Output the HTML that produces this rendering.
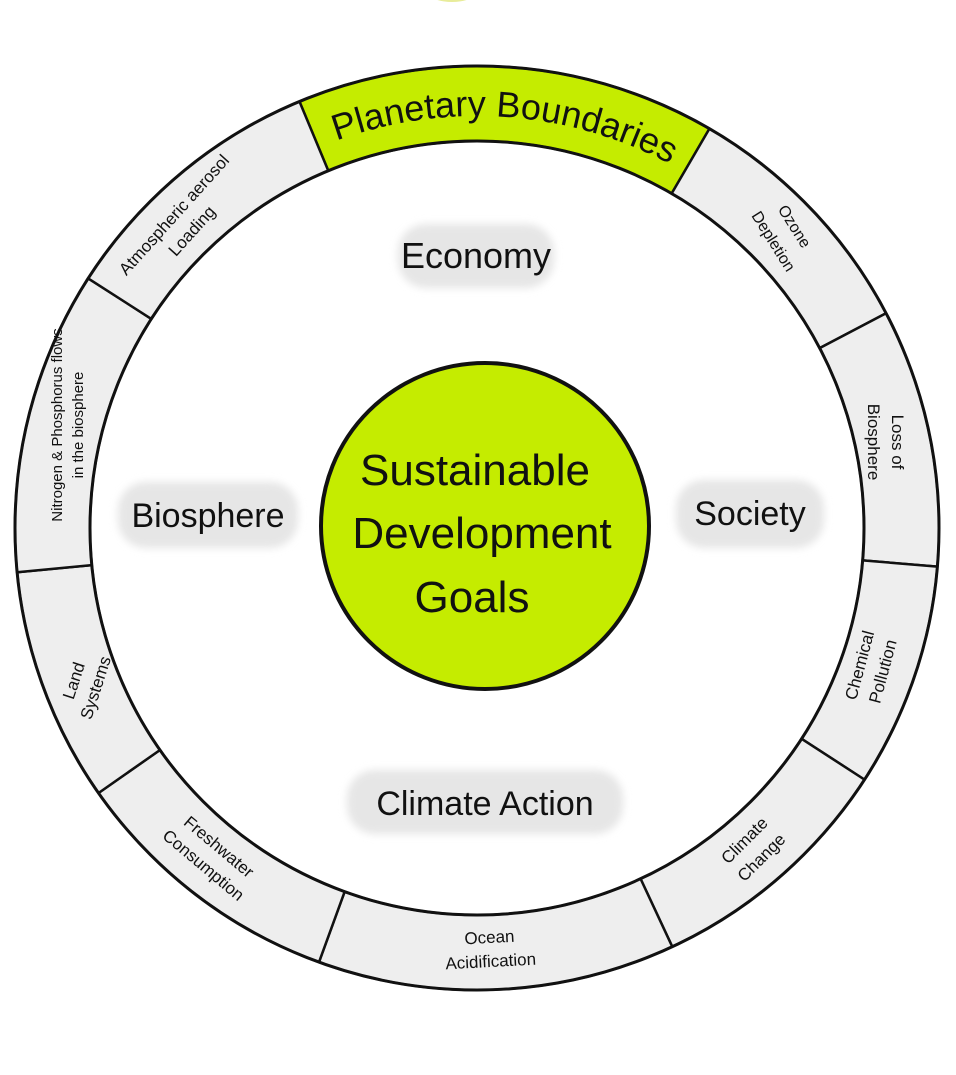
<!DOCTYPE html>
<html><head><meta charset="utf-8"><style>
html,body{margin:0;padding:0;background:#fff;}
svg{display:block;}
text{font-family:"Liberation Sans",sans-serif;fill:#111;}
</style></head><body>
<svg id="s" width="956" height="1075" viewBox="0 0 956 1075" xmlns="http://www.w3.org/2000/svg">
<defs>
<filter id="bl" x="-20%" y="-30%" width="140%" height="160%"><feGaussianBlur stdDeviation="4"/></filter>
<path id="pb" d=""/>
</defs>
<ellipse cx="452" cy="-6" rx="22" ry="8" fill="#e8ec9a"/>
<g id="ring"></g>
<g filter="url(#bl)" fill="#e6e6e6">
<rect x="398" y="224" width="156" height="64" rx="28"/>
<rect x="118" y="482" width="180" height="66" rx="28"/>
<rect x="676" y="480" width="148" height="68" rx="28"/>
<rect x="347" y="770" width="276" height="64" rx="28"/>
</g>
<text x="476" y="268" font-size="36" text-anchor="middle">Economy</text>
<text x="208" y="527" font-size="34" text-anchor="middle">Biosphere</text>
<text x="750" y="525" font-size="34" text-anchor="middle">Society</text>
<text x="485" y="815" font-size="34" text-anchor="middle">Climate Action</text>
<ellipse cx="485" cy="526" rx="164" ry="163" fill="#c5ec00" stroke="#111" stroke-width="4"/>
<text x="475" y="485" font-size="44" text-anchor="middle">Sustainable</text>
<text x="482" y="548" font-size="44" text-anchor="middle">Development</text>
<text x="472" y="612" font-size="44" text-anchor="middle">Goals</text>
<text font-size="36"><textPath href="#pb" startOffset="50%" text-anchor="middle">Planetary  Boundaries</textPath></text>
<g font-size="17" text-anchor="middle">
<g transform="translate(182,222) rotate(-48)"><text y="-5">Atmospheric aerosol</text><text y="19">Loading</text></g>
<text transform="translate(795,226) rotate(58)" y="6" font-size="16">Ozone</text>
<text transform="translate(774,241) rotate(58)" y="6" font-size="16">Depletion</text>
<g transform="translate(887,442) rotate(90)"><text y="-5">Loss of</text><text y="19">Biosphere</text></g>
<g transform="translate(870,668) rotate(-75)"><text y="-5">Chemical</text><text y="19">Pollution</text></g>
<g transform="translate(752,848) rotate(-45)"><text y="-5">Climate</text><text y="19">Change</text></g>
<g transform="translate(490,948) rotate(-3)"><text y="-5">Ocean</text><text y="19">Acidification</text></g>
<g transform="translate(212,855) rotate(40)"><text y="-5">Freshwater</text><text y="19">Consumption</text></g>
<g transform="translate(84,684) rotate(-72)"><text y="-5">Land</text><text y="18">Systems</text></g>
<g transform="translate(66,425) rotate(-90)" font-size="15"><text y="-4">Nitrogen &amp; Phosphorus flows</text><text y="17">in the biosphere</text></g>
</g>
</svg>
<script>
(function(){
var cx=477,cy=528,R=462,r=387;
function p(a,rad){a=a*Math.PI/180;return [cx+rad*Math.sin(a),cy-rad*Math.cos(a)];}
var b=[-22.6,30.2,62.3,94.8,123,155,200,235,264.5,302.7,337.4];
var g=document.getElementById('ring'),h='';
for(var i=0;i<b.length-1;i++){
 var a0=b[i],a1=b[i+1],o0=p(a0,R),o1=p(a1,R),i1=p(a1,r),i0=p(a0,r);
 var lg=(a1-a0)>180?1:0;
 var d='M'+o0+' A'+R+' '+R+' 0 '+lg+' 1 '+o1+' L'+i1+' A'+r+' '+r+' 0 '+lg+' 0 '+i0+'Z';
 h+='<path d="'+d+'" fill="'+(i==0?'#c5ec00':'#eeeeee')+'" stroke="#111" stroke-width="2.5" stroke-linejoin="round"/>';
}
h+='<circle cx="'+cx+'" cy="'+cy+'" r="'+R+'" fill="none" stroke="#111" stroke-width="3"/>';
h+='<circle cx="'+cx+'" cy="'+cy+'" r="'+r+'" fill="none" stroke="#111" stroke-width="3"/>';
g.innerHTML=h;
var tr=412,s=p(-26,tr),e=p(34,tr);
document.getElementById('pb').setAttribute('d','M'+s+' A'+tr+' '+tr+' 0 0 1 '+e);
})();
</script>
</body></html>
